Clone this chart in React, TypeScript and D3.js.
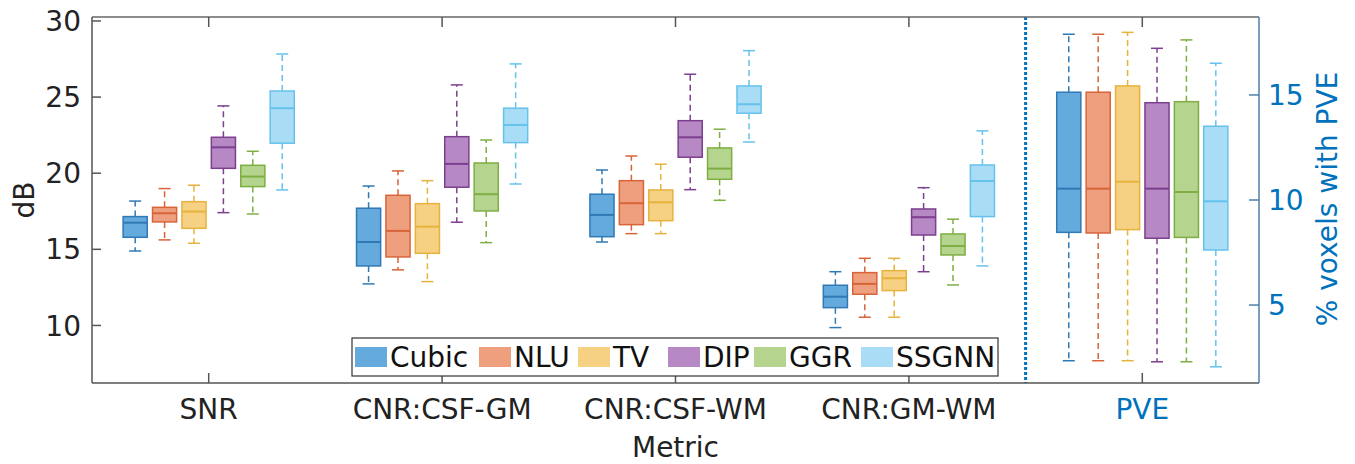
import React from "react";
import * as d3 from "d3";

const metrics = ["SNR", "CNR:CSF-GM", "CNR:CSF-WM", "CNR:GM-WM", "PVE"];
const methods = ["Cubic", "NLU", "TV", "DIP", "GGR", "SSGNN"];

// [lowerWhisker, q1, median, q3, upperWhisker] per metric (SNR, CSF-GM, CSF-WM, GM-WM, PVE)
const cubicStats = [
  [14.89, 15.79, 16.75, 17.15, 18.17],
  [12.73, 13.91, 15.48, 17.7, 19.16],
  [15.48, 15.83, 17.26, 18.62, 20.21],
  [9.86, 11.17, 11.89, 12.64, 13.53],
  [2.35, 8.46, 10.54, 15.13, 17.89],
];
const nluStats = [
  [15.62, 16.8, 17.37, 17.76, 18.99],
  [13.65, 14.5, 16.21, 18.55, 20.15],
  [16.03, 16.62, 18.03, 19.51, 21.13],
  [10.54, 12.05, 12.73, 13.47, 14.41],
  [2.35, 8.43, 10.54, 15.13, 17.89],
];
const tvStats = [
  [15.4, 16.38, 17.48, 18.13, 19.21],
  [12.88, 14.74, 16.49, 18.0, 19.51],
  [16.03, 16.88, 18.09, 18.9, 20.59],
  [10.54, 12.29, 13.1, 13.6, 14.41],
  [2.35, 8.59, 10.87, 15.43, 17.98],
];
const dipStats = [
  [17.41, 20.32, 21.7, 22.36, 24.42],
  [16.78, 19.08, 20.61, 22.4, 25.8],
  [18.92, 21.05, 22.36, 23.45, 26.5],
  [13.53, 15.94, 17.11, 17.65, 19.05],
  [2.3, 8.18, 10.54, 14.63, 17.22],
];
const ggrStats = [
  [17.32, 19.12, 19.78, 20.52, 21.44],
  [15.44, 17.52, 18.62, 20.67, 22.18],
  [18.22, 19.6, 20.3, 21.66, 22.89],
  [12.66, 14.63, 15.22, 16.01, 16.98],
  [2.3, 8.22, 10.38, 14.68, 17.62],
];
const ssgnnStats = [
  [18.9, 21.97, 24.27, 25.4, 27.83],
  [19.29, 22.01, 23.17, 24.27, 27.18],
  [22.05, 23.94, 24.53, 25.73, 28.05],
  [13.91, 17.15, 19.49, 20.54, 22.78],
  [2.06, 7.62, 9.94, 13.51, 16.51],
];
const allStats = [cubicStats, nluStats, tvStats, dipStats, ggrStats, ssgnnStats];

const leftTicks = [10, 15, 20, 25, 30];
const rightTicks = [5, 10, 15];

const fills = ["#64aadd", "#ee9f7d", "#f6d184", "#b688c4", "#b5d48e", "#a9ddf6"];
const edges = ["#2f79b5", "#d8643a", "#e6b33e", "#7d3f8f", "#7fae43", "#66c2ec"];
const blue = "#0072BD";

const W = 1355;
const H = 464;
const font = "'DejaVu Sans', sans-serif";

export default function App() {
  const x = d3.scaleLinear().domain([0.5, 5.5]).range([92, 1259]);
  const yL = d3.scaleLinear().domain([6.22, 30.26]).range([383, 17]);
  const yR = d3.scaleLinear().domain([1.29, 18.71]).range([383, 17]);
  const step = 0.126;
  const boxW = x(0.1033) - x(0);
  const capW = 12;
  const legendX = [355, 479, 578, 668, 754, 861];

  const boxes: React.ReactNode[] = [];
  metrics.forEach((m, gi) => {
    const y = gi === 4 ? yR : yL;
    methods.forEach((meth, mi) => {
      const [lo, q1, med, q3, hi] = allStats[mi][gi];
      const cx = x(gi + 1 + (mi - 2.5) * step);
      const key = `${gi}-${mi}`;
      boxes.push(
        <g key={key}>
          <line x1={cx} x2={cx} y1={y(q3)} y2={y(hi)} stroke={edges[mi]} strokeWidth={1.5} strokeDasharray="6,4" />
          <line x1={cx} x2={cx} y1={y(q1)} y2={y(lo)} stroke={edges[mi]} strokeWidth={1.5} strokeDasharray="6,4" />
          <line x1={cx - capW / 2} x2={cx + capW / 2} y1={y(hi)} y2={y(hi)} stroke={edges[mi]} strokeWidth={1.5} />
          <line x1={cx - capW / 2} x2={cx + capW / 2} y1={y(lo)} y2={y(lo)} stroke={edges[mi]} strokeWidth={1.5} />
          <rect x={cx - boxW / 2} y={y(q3)} width={boxW} height={y(q1) - y(q3)} fill={fills[mi]} stroke={edges[mi]} strokeWidth={1.5} />
          <line x1={cx - boxW / 2} x2={cx + boxW / 2} y1={y(med)} y2={y(med)} stroke={edges[mi]} strokeWidth={2} />
        </g>
      );
    });
  });

  return (
    <svg width={W} height={H} style={{ position: "absolute", left: 0, top: 0, display: "block", background: "#fff" }} fontFamily={font}>
      <rect x={0} y={0} width={W} height={H} fill="#fff" />
      {boxes}
      {/* separator */}
      <line x1={x(4.5)} x2={x(4.5)} y1={17} y2={383} stroke={blue} strokeWidth={3} strokeDasharray="3,2" />
      {/* frame */}
      <line x1={92} x2={1259} y1={17} y2={17} stroke="#666" strokeWidth={1.5} />
      <line x1={92} x2={1259} y1={383} y2={383} stroke="#555" strokeWidth={1.5} />
      <line x1={92} x2={92} y1={17} y2={383} stroke="#555" strokeWidth={1.5} />
      <line x1={1259} x2={1259} y1={17} y2={383} stroke="#4d7ea8" strokeWidth={1.5} />
      {/* left ticks */}
      {leftTicks.map((t) => (
        <g key={`l${t}`}>
          <line x1={92} x2={101} y1={yL(t)} y2={yL(t)} stroke="#555" strokeWidth={1.5} />
          <text x={81} y={yL(t)} dy="0.36em" textAnchor="end" fontSize={28} fill="#222">{t}</text>
        </g>
      ))}
      {/* right ticks */}
      {rightTicks.map((t) => (
        <g key={`r${t}`}>
          <line x1={1249} x2={1259} y1={yR(t)} y2={yR(t)} stroke="#4d7ea8" strokeWidth={1.5} />
          <text x={1268} y={yR(t)} dy="0.36em" textAnchor="start" fontSize={28} fill={blue}>{t}</text>
        </g>
      ))}
      {/* x ticks */}
      {metrics.map((m, i) => (
        <g key={`x${m}`}>
          <line x1={x(i + 1)} x2={x(i + 1)} y1={383} y2={373} stroke="#555" strokeWidth={1.5} />
          <line x1={x(i + 1)} x2={x(i + 1)} y1={17} y2={27} stroke="#555" strokeWidth={1.5} />
          <text x={x(i + 1)} y={419} textAnchor="middle" fontSize={28} fill={i === 4 ? blue : "#222"}>{m}</text>
        </g>
      ))}
      <text x={x(3)} y={457} textAnchor="middle" fontSize={28} fill="#222">Metric</text>
      <text transform={`translate(34,200) rotate(-90)`} textAnchor="middle" fontSize={28} fill="#222">dB</text>
      <text transform={`translate(1337,199) rotate(-90)`} textAnchor="middle" fontSize={28} fill={blue}>% voxels with PVE</text>
      {/* legend */}
      <rect x={352} y={338} width={646} height={38} fill="#fff" stroke="#333" strokeWidth={1.2} />
      {methods.map((meth, i) => (
        <g key={`leg${meth}`}>
          <rect x={legendX[i]} y={347} width={32} height={20} fill={fills[i]} />
          <text x={legendX[i] + 35} y={367} fontSize={28} fill="#111">{meth}</text>
        </g>
      ))}
    </svg>
  );
}
